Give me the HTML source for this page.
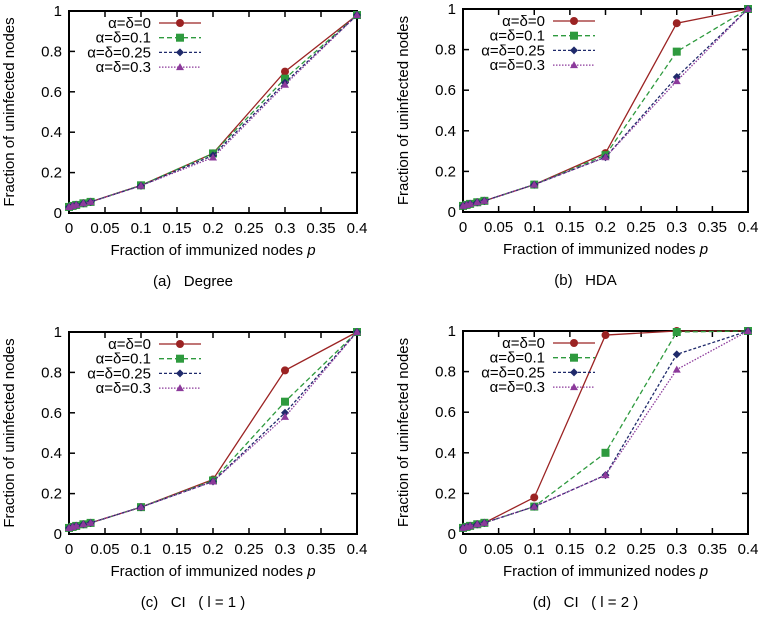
<!DOCTYPE html>
<html><head><meta charset="utf-8"><style>
body{margin:0;background:#fff;width:763px;height:612px;overflow:hidden}
svg{font-family:"Liberation Sans",sans-serif}
</style></head><body>
<svg id="chart" width="763" height="612"></svg>
<script>
const xs = [0,0.005,0.01,0.02,0.03,0.1,0.2,0.3,0.4];
const seriesNames = ["α=δ=0","α=δ=0.1","α=δ=0.25","α=δ=0.3"];
const lowVals = [0.03,0.035,0.04,0.048,0.055];
const degreeS0 = [...lowVals,0.137,0.295,0.70,0.98];
const degreeS1 = [...lowVals,0.137,0.295,0.665,0.98];
const degreeS2 = [...lowVals,0.135,0.285,0.645,0.98];
const degreeS3 = [...lowVals,0.135,0.275,0.635,0.98];
const hdaS0 = [...lowVals,0.135,0.29,0.93,1];
const hdaS1 = [...lowVals,0.135,0.28,0.79,1];
const hdaS2 = [...lowVals,0.135,0.27,0.665,1];
const hdaS3 = [...lowVals,0.135,0.27,0.645,1];
const ci1S0 = [...lowVals,0.133,0.27,0.81,1];
const ci1S1 = [...lowVals,0.133,0.265,0.655,1];
const ci1S2 = [...lowVals,0.133,0.26,0.60,1];
const ci1S3 = [...lowVals,0.133,0.26,0.58,1];
const ci2S0 = [...lowVals,0.18,0.98,1,1];
const ci2S1 = [...lowVals,0.135,0.40,0.995,1];
const ci2S2 = [...lowVals,0.135,0.29,0.885,1];
const ci2S3 = [...lowVals,0.135,0.29,0.81,1];
const xTicks = [0,0.05,0.1,0.15,0.2,0.25,0.3,0.35,0.4];
const xTickLabels = ["0","0.05","0.1","0.15","0.2","0.25","0.3","0.35","0.4"];
const yTicks = [0,0.2,0.4,0.6,0.8,1];
const yTickLabels = ["0","0.2","0.4","0.6","0.8","1"];
const captions = ["(a)\u00a0\u00a0\u00a0Degree","(b)\u00a0\u00a0\u00a0HDA","(c)\u00a0\u00a0\u00a0CI\u00a0\u00a0\u00a0(\u00a0l\u00a0=\u00a01\u00a0)","(d)\u00a0\u00a0\u00a0CI\u00a0\u00a0\u00a0(\u00a0l\u00a0=\u00a02\u00a0)"];

const colors=["#9b2323","#2e9a3e","#1f2a6b","#8c3a9b"];
const dashes=["","5,3","3,2","1.5,1.5"];
const panels=[
 {L:69,R:357,T:11,B:213,data:[degreeS0,degreeS1,degreeS2,degreeS3]},
 {L:463,R:748,T:9,B:212,data:[hdaS0,hdaS1,hdaS2,hdaS3]},
 {L:69,R:357,T:332,B:534,data:[ci1S0,ci1S1,ci1S2,ci1S3]},
 {L:463,R:748,T:331,B:534,data:[ci2S0,ci2S1,ci2S2,ci2S3]}
];
const svg=document.getElementById('chart');
const NS="http://www.w3.org/2000/svg";
function mk(tag,attrs,parent){const e=document.createElementNS(NS,tag);for(const k in attrs)e.setAttribute(k,attrs[k]);(parent||svg).appendChild(e);return e;}
function marker(g,k,x,y,c){
  let m;
  if(k===0)m=mk('circle',{cx:x,cy:y,r:4,fill:c},g);
  else if(k===1)m=mk('rect',{x:x-4,y:y-4,width:8,height:8,fill:c},g);
  else if(k===2)m=mk('polygon',{points:`${x},${y-4} ${x+4},${y} ${x},${y+4} ${x-4},${y}`,fill:c},g);
  else m=mk('polygon',{points:`${x},${y-4} ${x+4},${y+3} ${x-4},${y+3}`,fill:c},g);
  return m;
}
panels.forEach((p,pi)=>{
  const g=mk('g',{});
  
  
  const sx=v=>p.L+(v/0.4)*(p.R-p.L);
  const sy=v=>p.B-v*(p.B-p.T);
  yTicks.forEach((v,i)=>{
    const y=sy(v);
    mk('line',{x1:p.L,x2:p.L+6,y1:y,y2:y,stroke:'#000','stroke-width':1.5},g);
    mk('line',{x1:p.R,x2:p.R-6,y1:y,y2:y,stroke:'#000','stroke-width':1.5},g);
    const t=mk('text',{x:p.L-7,y:y+5,'text-anchor':'end','font-size':15},g);
    
    
    t.textContent=yTickLabels[i];
  });
  xTicks.forEach((v,i)=>{
    const x=sx(v);
    mk('line',{x1:x,x2:x,y1:p.B,y2:p.B-6,stroke:'#000','stroke-width':1.5},g);
    mk('line',{x1:x,x2:x,y1:p.T,y2:p.T+6,stroke:'#000','stroke-width':1.5},g);
    const t=mk('text',{x:x,y:p.B+20,'text-anchor':'middle','font-size':15},g);
    
    
    t.textContent=xTickLabels[i];
  });
  const fr=mk('rect',{x:p.L,y:p.T,width:p.R-p.L,height:p.B-p.T,fill:'none',stroke:'#000','stroke-width':2},g);
  
  
  const yl=mk('text',{x:0,y:0,transform:`translate(${p.L-55},${(p.T+p.B)/2}) rotate(-90)`,'text-anchor':'middle','font-size':15},g);
  
  
  yl.textContent='Fraction of uninfected nodes';
  const xl=mk('text',{x:(p.L+p.R)/2,y:p.B+42,'text-anchor':'middle','font-size':15},g);
  
  
  xl.innerHTML='Fraction of immunized nodes <tspan font-style="italic">p</tspan>';
  const cap=mk('text',{x:(p.L+p.R)/2-20,y:p.B+73,'text-anchor':'middle','font-size':15},g);
  
  
  cap.textContent=captions[pi];
  p.data.forEach((vals,k)=>{
    const pts=vals.map((v,i)=>sx(xs[i])+','+sy(v)).join(' ');
    const l=mk('polyline',{points:pts,fill:'none',stroke:colors[k],'stroke-width':1.3,'stroke-dasharray':dashes[k]},g);
    
    
    vals.forEach((v,i)=>{
      const m=marker(g,k,sx(xs[i]),sy(v),colors[k]);
      
      
    });
    const ly=p.T+12+k*14.7;
    const lt=mk('text',{x:p.L+82,y:ly+5,'text-anchor':'end','font-size':15},g);
    
    
    lt.textContent=seriesNames[k];
    const ll=mk('line',{x1:p.L+90,x2:p.L+132,y1:ly,y2:ly,stroke:colors[k],'stroke-width':1.3,'stroke-dasharray':dashes[k]},g);
    
    
    const lm=marker(g,k,p.L+111,ly,colors[k]);
    
    
  });
});
</script>
</body></html>
